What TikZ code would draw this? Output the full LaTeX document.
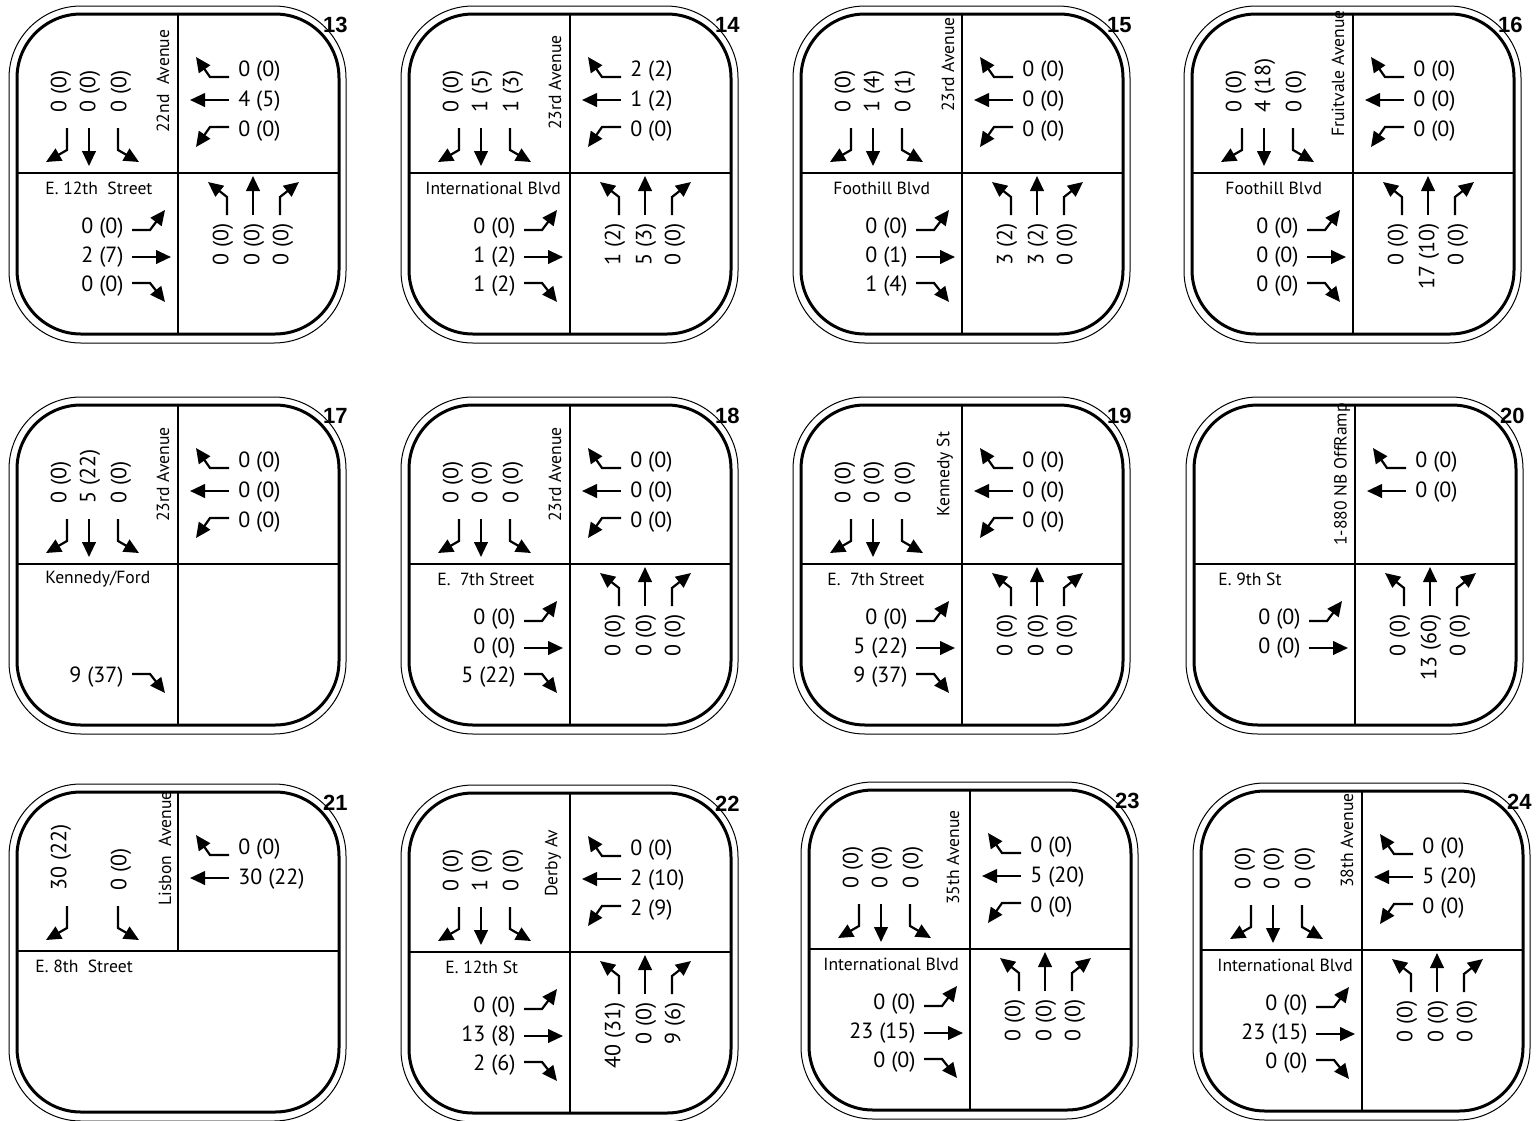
\documentclass[tikz,border=0pt]{standalone}
\usepackage{fontspec}
\setmainfont{PT Sans}
\newfontfamily\idfont{Liberation Sans}
\usetikzlibrary{arrows.meta}

\tikzset{
    mv/.style = {line width=1.1pt, -{Triangle[length=7.5pt,width=6.8pt]}},
    cnt/.style = {font=\fontsize{11}{13}\selectfont, inner sep=0pt},
    vcnt/.style = {cnt, rotate=90},
    street/.style = {font=\fontsize{8.8}{10}\selectfont, inner sep=0pt},
    idnum/.style = {font=\idfont\bfseries\fontsize{11}{13}\selectfont, inner sep=0pt},
    divider/.style = {line width=1pt}
}

% frame of one intersection
\newcommand{\frm}[1]{%
    \def\pn{#1}%
    \path[draw, line width=0.5pt, rounded corners=36pt](-169,-167)rectangle(168,170);
    \path[draw, line width=1.5pt, rounded corners=32pt](-161,-159)rectangle(161,161);
    \node[idnum, anchor=east](n\pn)at(170,-148){#1};
}
\newcommand{\xing}{%
    \path[draw, divider](0,-160)to(0,160);
    \path[draw, divider](-160,0)to(160,0);
}
% southbound
\newcommand{\sbl}[1]{\path[draw, mv](-111,-45)--(-111,-23)--(-132,-11);
    \node[vcnt, anchor=west](\pn sbl)at(-117,-60){#1};}
\newcommand{\sbt}[1]{\path[draw, mv](-89,-45)--(-89,-7);
    \node[vcnt, anchor=west](\pn sbt)at(-88,-60){#1};}
\newcommand{\sbr}[1]{\path[draw, mv](-60,-45)--(-60,-23)--(-39,-11);
    \node[vcnt, anchor=west](\pn sbr)at(-57,-60){#1};}
% westbound
\newcommand{\wbr}[1]{\path[draw, mv](51,-96)--(32,-96)--(18,-116);
    \node[cnt, anchor=west](\pn wbr)at(60,-102){#1};}
\newcommand{\wbt}[1]{\path[draw, mv](51,-73)--(12,-73);
    \node[cnt, anchor=west](\pn wbt)at(60,-72){#1};}
\newcommand{\wbl}[1]{\path[draw, mv](51,-46)--(32,-46)--(18,-26);
    \node[cnt, anchor=west](\pn wbl)at(60,-42){#1};}
% eastbound
\newcommand{\ebl}[1]{\path[draw, mv](-46,57)--(-28,57)--(-13,37);
    \node[cnt, anchor=east](\pn ebl)at(-54,55){#1};}
\newcommand{\ebt}[1]{\path[draw, mv](-46,84)--(-7,84);
    \node[cnt, anchor=east](\pn ebt)at(-54,84){#1};}
\newcommand{\ebr}[1]{\path[draw, mv](-46,110)--(-28,110)--(-13,129);
    \node[cnt, anchor=east](\pn ebr)at(-54,113){#1};}
% northbound
\newcommand{\nbl}[1]{\path[draw, mv](49,42)--(49,24)--(30,9);
    \node[vcnt, anchor=east](\pn nbl)at(45,50){#1};}
\newcommand{\nbt}[1]{\path[draw, mv](75,42)--(75,3);
    \node[vcnt, anchor=east](\pn nbt)at(76,50){#1};}
\newcommand{\nbr}[1]{\path[draw, mv](102,42)--(102,24)--(121,9);
    \node[vcnt, anchor=east](\pn nbr)at(105,50){#1};}
% street names
\newcommand{\nsst}[3]{\node[street, rotate=90, anchor=west](\pn ns)at(#1,#2){#3};}
\newcommand{\ewst}[2]{\node[street, anchor=west](\pn ew)at(#1,15){#2};}

\begin{document}
\begin{tikzpicture}[x=0.5pt, y=-0.5pt]
    \useasboundingbox(0,0)rectangle(1537,1120);
    % row 1
    \begin{scope}[shift={(178,173)}]
        \frm{13}\xing
        \sbl{0 (0)}\sbt{0 (0)}\sbr{0 (0)}
        \wbr{0 (0)}\wbt{4 (5)}\wbl{0 (0)}
        \ebl{0 (0)}\ebt{2 (7)}\ebr{0 (0)}
        \nbl{0 (0)}\nbt{0 (0)}\nbr{0 (0)}
        \nsst{-15}{-40}{22nd~~Avenue}
        \ewst{-133}{E.~12th~~Street}
    \end{scope}
    \begin{scope}[shift={(570,173)}]
        \frm{14}\xing
        \sbl{0 (0)}\sbt{1 (5)}\sbr{1 (3)}
        \wbr{2 (2)}\wbt{1 (2)}\wbl{0 (0)}
        \ebl{0 (0)}\ebt{1 (2)}\ebr{1 (2)}
        \nbl{1 (2)}\nbt{5 (3)}\nbr{0 (0)}
        \nsst{-15}{-43}{23rd Avenue}
        \ewst{-145}{International Blvd}
    \end{scope}
    \begin{scope}[shift={(962,173)}]
        \frm{15}\xing
        \sbl{0 (0)}\sbt{1 (4)}\sbr{0 (1)}
        \wbr{0 (0)}\wbt{0 (0)}\wbl{0 (0)}
        \ebl{0 (0)}\ebt{0 (1)}\ebr{1 (4)}
        \nbl{3 (2)}\nbt{3 (2)}\nbr{0 (0)}
        \nsst{-14}{-61}{23rd Avenue}
        \ewst{-129}{Foothill Blvd}
    \end{scope}
    \begin{scope}[shift={(1353,173)}]
        \frm{16}\xing
        \sbl{0 (0)}\sbt{4 (18)}\sbr{0 (0)}
        \wbr{0 (0)}\wbt{0 (0)}\wbl{0 (0)}
        \ebl{0 (0)}\ebt{0 (0)}\ebr{0 (0)}
        \nbl{0 (0)}\nbt{17 (10)}\nbr{0 (0)}
        \nsst{-15}{-36}{Fruitvale Avenue}
        \ewst{-128}{Foothill Blvd}
    \end{scope}
    % row 2
    \begin{scope}[shift={(178,564)}]
        \frm{17}\xing
        \sbl{0 (0)}\sbt{5 (22)}\sbr{0 (0)}
        \wbr{0 (0)}\wbt{0 (0)}\wbl{0 (0)}
        \ebr{9 (37)}
        \nsst{-15}{-42}{23rd Avenue}
        \ewst{-133}{Kennedy/Ford}
    \end{scope}
    \begin{scope}[shift={(570,564)}]
        \frm{18}\xing
        \sbl{0 (0)}\sbt{0 (0)}\sbr{0 (0)}
        \wbr{0 (0)}\wbt{0 (0)}\wbl{0 (0)}
        \ebl{0 (0)}\ebt{0 (0)}\ebr{5 (22)}
        \nbl{0 (0)}\nbt{0 (0)}\nbr{0 (0)}
        \nsst{-15}{-42}{23rd Avenue}
        \ewst{-133}{E.~~7th Street}
    \end{scope}
    \begin{scope}[shift={(962,564)}]
        \frm{19}\xing
        \sbl{0 (0)}\sbt{0 (0)}\sbr{0 (0)}
        \wbr{0 (0)}\wbt{0 (0)}\wbl{0 (0)}
        \ebl{0 (0)}\ebt{5 (22)}\ebr{9 (37)}
        \nbl{0 (0)}\nbt{0 (0)}\nbr{0 (0)}
        \nsst{-17}{-47}{Kennedy St}
        \ewst{-135}{E.~~7th Street}
    \end{scope}
    \begin{scope}[shift={(1355,564)}]
        \frm{20}\xing
        \wbr{0 (0)}\wbt{0 (0)}
        \ebl{0 (0)}\ebt{0 (0)}
        \nbl{0 (0)}\nbt{13 (60)}\nbr{0 (0)}
        \nsst{-13}{-18}{1-880 NB OffRamp}
        \ewst{-137}{E. 9th St}
    \end{scope}
    % row 3
    \begin{scope}[shift={(178,951)}]
        \frm{21}
        \path[draw, divider](0,-160)to(0,0);
        \path[draw, divider](-160,0)to(160,0);
        \sbl{30 (22)}\sbr{0 (0)}
        \wbr{0 (0)}\wbt{30 (22)}
        \nsst{-13}{-45}{Lisbon~~Avenue}
        \ewst{-143}{E. 8th~~Street}
    \end{scope}
    \begin{scope}[shift={(570,952)}]
        \frm{22}\xing
        \sbl{0 (0)}\sbt{1 (0)}\sbr{0 (0)}
        \wbr{0 (0)}\wbt{2 (10)}\wbl{2 (9)}
        \ebl{0 (0)}\ebt{13 (8)}\ebr{2 (6)}
        \nbl{40 (31)}\nbt{0 (0)}\nbr{9 (6)}
        \nsst{-17}{-55}{Derby Av}
        \ewst{-125}{E. 12th St}
    \end{scope}
    \begin{scope}[shift={(970,949)}]
        \frm{23}\xing
        \sbl{0 (0)}\sbt{0 (0)}\sbr{0 (0)}
        \wbr{0 (0)}\wbt{5 (20)}\wbl{0 (0)}
        \ebl{0 (0)}\ebt{23 (15)}\ebr{0 (0)}
        \nbl{0 (0)}\nbt{0 (0)}\nbr{0 (0)}
        \nsst{-17}{-44}{35th Avenue}
        \ewst{-147}{International Blvd}
    \end{scope}
    \begin{scope}[shift={(1362,950)}]
        \frm{24}\xing
        \sbl{0 (0)}\sbt{0 (0)}\sbr{0 (0)}
        \wbr{0 (0)}\wbt{5 (20)}\wbl{0 (0)}
        \ebl{0 (0)}\ebt{23 (15)}\ebr{0 (0)}
        \nbl{0 (0)}\nbt{0 (0)}\nbr{0 (0)}
        \nsst{-15}{-62}{38th Avenue}
        \ewst{-145}{International Blvd}
    \end{scope}
\end{tikzpicture}
\end{document}
